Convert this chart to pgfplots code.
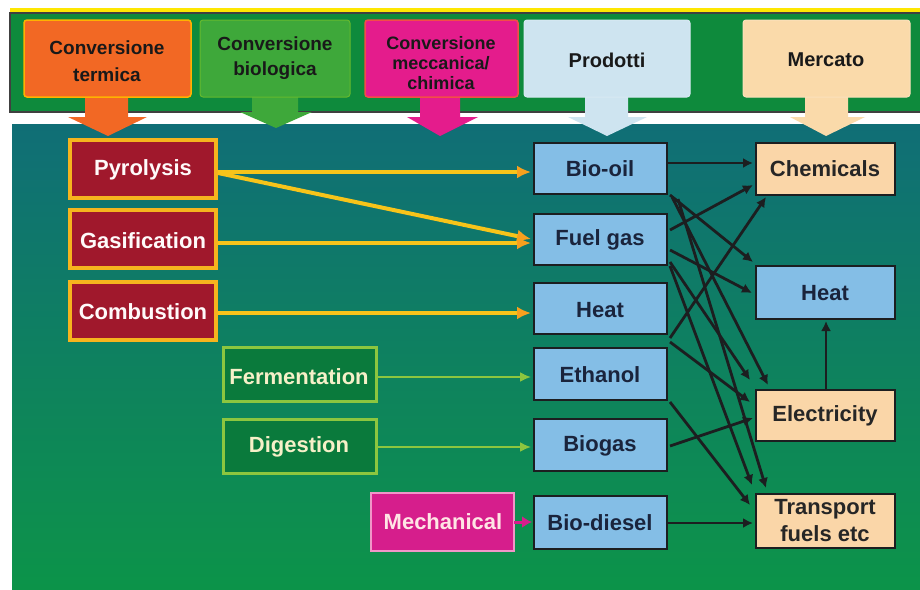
\documentclass[border=0pt]{standalone}
\usepackage{pgfplots}
\pgfplotsset{compat=1.18}
\usepackage{fontspec}
\setmainfont{Liberation Sans}
\usetikzlibrary{arrows.meta}

\definecolor{bandgreen}{RGB}{14,138,60}
\definecolor{panelTop}{RGB}{16,110,118}
\definecolor{panelMid}{RGB}{12,140,82}
\definecolor{panelBot}{RGB}{12,150,70}
\definecolor{hdrOrange}{RGB}{242,104,36}
\definecolor{hdrGreen}{RGB}{62,168,58}
\definecolor{hdrMagenta}{RGB}{228,28,140}
\definecolor{hdrBlue}{RGB}{206,228,240}
\definecolor{hdrPeach}{RGB}{250,218,170}
\definecolor{procRed}{RGB}{160,24,44}
\definecolor{procBorder}{RGB}{246,180,30}
\definecolor{bioFill}{RGB}{10,122,60}
\definecolor{bioBorder}{RGB}{140,198,63}
\definecolor{mechFill}{RGB}{214,30,140}
\definecolor{mechBorder}{RGB}{240,150,200}
\definecolor{prodBlue}{RGB}{132,190,230}
\definecolor{mktPeach}{RGB}{250,214,168}
\definecolor{lineDark}{RGB}{28,30,32}
\definecolor{yel}{RGB}{247,196,26}
\definecolor{yelHead}{RGB}{247,160,30}
\definecolor{navy}{RGB}{26,36,60}
\definecolor{cream}{RGB}{246,240,200}

\tikzset{
  lbl/.style={font=\fontsize{22}{24}\selectfont\bfseries, align=center},
  hdr/.style={font=\fontsize{19}{20}\selectfont\bfseries, align=center, text=black!90},
  blk/.style={lineDark, line width=2.8pt, -{Latex[length=10pt,width=10pt]}},
}

\newcommand{\bx}[5]{\addplot[#5] coordinates {(#1,#2) (#3,#2) (#3,#4) (#1,#4)} -- cycle;}

\begin{document}
\begin{tikzpicture}
\begin{axis}[
  scale only axis, width=920pt, height=589pt,
  xmin=0, xmax=920, ymin=0, ymax=589, y dir=reverse,
  hide axis, clip=false, no markers,
]
% white page background
\bx{0}{0}{920}{620}{fill=white, draw=none}
% top band
\bx{10}{8}{920}{13}{fill=yellow!90!orange, draw=none}
\bx{10}{13}{921}{112}{fill=bandgreen, draw=black!75, line width=1.5pt}
% main panel
\addplot[draw=none, top color=panelTop, middle color=panelMid, bottom color=panelBot] coordinates {(12,124) (920,124) (920,620) (12,620)} -- cycle;

% header arrows
\addplot[fill=hdrOrange, draw=none] coordinates {(85,95) (128,95) (128,117) (147,117) (108,136) (68,117) (85,117)} -- cycle;
\addplot[fill=hdrGreen, draw=none] coordinates {(252,95) (298,95) (298,112) (312,112) (276,128) (240,112) (252,112)} -- cycle;
\addplot[fill=hdrMagenta, draw=none] coordinates {(420,95) (460,95) (460,117) (478,117) (440,136) (407,117) (420,117)} -- cycle;
\addplot[fill=hdrBlue, draw=none] coordinates {(585,95) (628,95) (628,117) (647,117) (607,136) (568,117) (585,117)} -- cycle;
\addplot[fill=hdrPeach, draw=none] coordinates {(805,95) (848,95) (848,117) (865,117) (826,136) (790,117) (805,117)} -- cycle;

% header boxes
\bx{24}{20}{191}{97}{fill=hdrOrange, draw=orange!60!yellow, line width=1.5pt, rounded corners=3pt}
\bx{200}{20}{350}{97}{fill=hdrGreen, draw=hdrGreen!80!yellow, line width=1pt, rounded corners=3pt}
\bx{365}{20}{518}{97}{fill=hdrMagenta, draw=orange!50!hdrMagenta, line width=1.5pt, rounded corners=3pt}
\bx{524}{20}{690}{97}{fill=hdrBlue, draw=hdrBlue!80!white, line width=1pt, rounded corners=3pt}
\bx{743}{20}{910}{97}{fill=hdrPeach, draw=hdrPeach!80!white, line width=1pt, rounded corners=3pt}

\node[hdr, font=\fontsize{19}{27}\selectfont\bfseries] at (107,61) {Conversione\\termica};
\node[hdr, font=\fontsize{19}{25}\selectfont\bfseries] at (275,58) {Conversione\\biologica};
\node[hdr, font=\fontsize{18}{20}\selectfont\bfseries] at (441,63) {Conversione\\meccanica/\\chimica};
\node[hdr, font=\fontsize{20}{20}\selectfont\bfseries] at (607,60) {Prodotti};
\node[hdr, font=\fontsize{20}{20}\selectfont\bfseries] at (826,60) {Mercato};

% thermal process boxes
\bx{70}{140}{216}{198}{fill=procRed, draw=procBorder, line width=4.5pt}
\bx{70}{210}{216}{268}{fill=procRed, draw=procBorder, line width=4.5pt}
\bx{70}{282}{216}{340}{fill=procRed, draw=procBorder, line width=4.5pt}
\node[lbl, text=white!92!pink] at (143,170) {Pyrolysis};
\node[lbl, text=white!92!pink] at (143,241) {Gasification};
\node[lbl, text=white!92!pink] at (143,312) {Combustion};

% biological boxes
\bx{223}{347}{376}{401}{fill=bioFill, draw=bioBorder, line width=3pt}
\bx{223}{419}{376}{473}{fill=bioFill, draw=bioBorder, line width=3pt}
\node[lbl, text=cream] at (299,377) {Fermentation};
\node[lbl, text=cream] at (299,447) {Digestion};

% mechanical box
\bx{371}{493}{514}{551}{fill=mechFill, draw=mechBorder, line width=2pt}
\node[lbl, text=pink!40!white] at (443,522) {Mechanical};

% yellow arrows
\addplot[yel, line width=4pt, -{Latex[length=14pt,width=13pt,color=yelHead]}] coordinates {(218,172) (531,172)};
\addplot[yel, line width=4pt, -{Latex[length=14pt,width=13pt,color=yelHead]}] coordinates {(218,173) (531,239)};
\addplot[yel, line width=4pt, -{Latex[length=14pt,width=13pt,color=yelHead]}] coordinates {(218,243) (531,243)};
\addplot[yel, line width=4pt, -{Latex[length=14pt,width=13pt,color=yelHead]}] coordinates {(218,313) (531,313)};
\addplot[bioBorder, line width=2pt, -{Latex[length=11pt,width=10pt]}] coordinates {(378,377) (531,377)};
\addplot[bioBorder, line width=2pt, -{Latex[length=11pt,width=10pt]}] coordinates {(378,447) (531,447)};
\addplot[mechFill, line width=3pt, -{Latex[length=10pt,width=12pt]}] coordinates {(514,522) (532,522)};

% black arrows
\addplot[blk] coordinates {(668,163) (753,163)};
\addplot[blk] coordinates {(670,195) (753,262)};
\addplot[blk] coordinates {(672,197) (768,385)};
\addplot[blk] coordinates {(678,199) (766,488)};
\addplot[blk] coordinates {(670,230) (753,185)};
\addplot[blk] coordinates {(670,250) (752,293)};
\addplot[blk] coordinates {(670,262) (750,380)};
\addplot[blk] coordinates {(670,266) (752,485)};
\addplot[blk] coordinates {(670,338) (766,197)};
\addplot[blk] coordinates {(670,342) (750,402)};
\addplot[blk] coordinates {(670,402) (750,505)};
\addplot[blk] coordinates {(670,446) (753,418)};
\addplot[blk] coordinates {(668,523) (753,523)};
\addplot[blk] coordinates {(826,389) (826,321)};

% product boxes
\bx{534}{143}{667}{194}{fill=prodBlue, draw=lineDark, line width=2.5pt}
\bx{534}{214}{667}{265}{fill=prodBlue, draw=lineDark, line width=2.5pt}
\bx{534}{283}{667}{334}{fill=prodBlue, draw=lineDark, line width=2.5pt}
\bx{534}{348}{667}{400}{fill=prodBlue, draw=lineDark, line width=2.5pt}
\bx{534}{419}{667}{471}{fill=prodBlue, draw=lineDark, line width=2.5pt}
\bx{534}{496}{667}{549}{fill=prodBlue, draw=lineDark, line width=2.5pt}
\node[lbl, text=navy] at (600,169) {Bio-oil};
\node[lbl, text=navy] at (600,240) {Fuel gas};
\node[lbl, text=navy] at (600,310) {Heat};
\node[lbl, text=navy] at (600,375) {Ethanol};
\node[lbl, text=navy] at (600,446) {Biogas};
\node[lbl, text=navy] at (600,523) {Bio-diesel};

% market boxes
\bx{756}{143}{895}{195}{fill=mktPeach, draw=lineDark, line width=2.5pt}
\bx{756}{266}{895}{319}{fill=prodBlue, draw=lineDark, line width=2.5pt}
\bx{756}{390}{895}{441}{fill=mktPeach, draw=lineDark, line width=2.5pt}
\bx{756}{494}{895}{548}{fill=mktPeach, draw=lineDark, line width=2.5pt}
\node[lbl, text=black!85] at (825,169) {Chemicals};
\node[lbl, text=navy] at (825,293) {Heat};
\node[lbl, text=black!85] at (825,416) {Electricity};
\node[lbl, text=black!85, font=\fontsize{22}{27}\selectfont\bfseries] at (825,521) {Transport\\fuels etc};
\end{axis}
\pgfresetboundingbox
\path (current axis.south west) rectangle (current axis.north east);
\end{tikzpicture}
\end{document}
